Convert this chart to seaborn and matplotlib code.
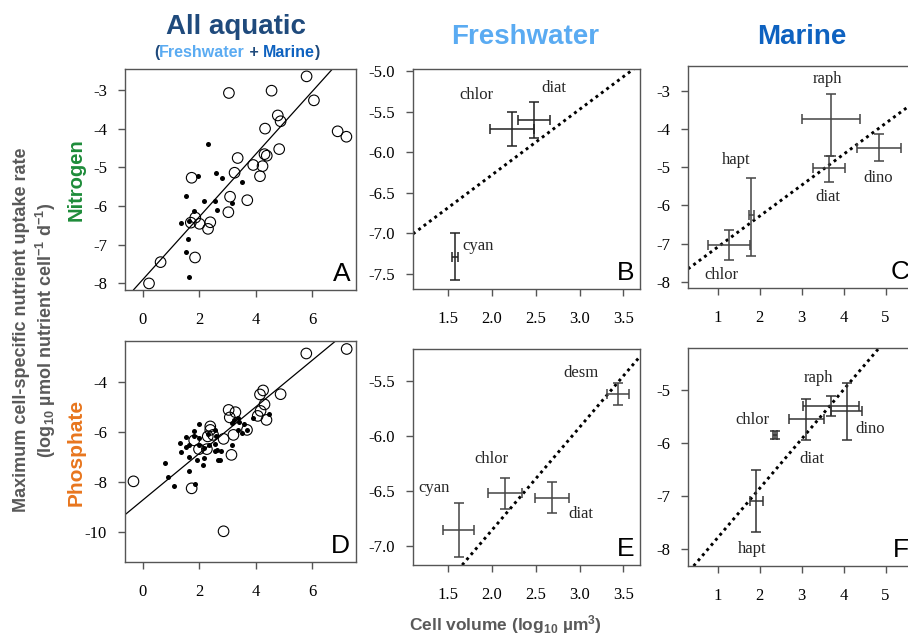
import numpy as np
import pandas as pd
import seaborn as sns
import matplotlib.pyplot as plt

# ---- panel A: nitrogen, all aquatic (open = marine, filled = freshwater)
a_open_x = [0.22, 0.63, 5.80, 6.06, 3.05, 4.56, 4.78, 4.88, 4.33, 6.90, 7.21, 4.83, 4.31, 4.39, 3.36,
            3.91, 4.24, 3.25, 4.15, 1.73, 3.09, 3.70, 3.03, 1.86, 2.01, 1.70, 2.39, 2.31, 1.85]
a_open_y = [-8.00, -7.45, -2.65, -3.27, -3.08, -3.02, -3.66, -3.81, -4.00, -4.07, -4.21, -4.53, -4.66, -4.70, -4.76,
            -4.94, -4.97, -5.14, -5.23, -5.27, -5.76, -5.85, -6.16, -6.30, -6.46, -6.43, -6.42, -6.59, -7.33]
a_fill_x = [2.30, 1.96, 2.60, 2.80, 3.51, 1.53, 2.15, 2.57, 3.17, 1.82, 2.63, 1.34, 1.62, 1.59, 1.53, 1.63]
a_fill_y = [-4.41, -5.22, -5.15, -5.27, -5.38, -5.74, -5.87, -5.87, -5.92, -6.14, -6.10, -6.44, -6.38, -6.85, -7.20, -7.84]

# ---- panel D: phosphate, all aquatic
d_open_x = [-0.33, 5.79, 7.22, 4.88, 4.26, 4.15, 4.31, 4.17, 4.07, 4.38, 3.04, 3.28, 3.08, 2.39, 2.39,
            2.30, 2.49, 2.86, 3.21, 3.69, 1.99, 2.27, 1.82, 3.14, 1.73, 2.86]
d_open_y = [-7.97, -2.85, -2.67, -4.48, -4.33, -4.49, -4.89, -5.15, -5.35, -5.51, -5.11, -5.20, -5.41, -5.77, -5.91,
            -6.17, -6.11, -6.27, -6.11, -5.91, -6.68, -6.68, -6.33, -6.91, -8.25, -9.97]
d_fill_x = [0.78, 0.91, 1.09, 1.34, 1.31, 1.53, 1.54, 1.62, 1.64, 1.64, 1.82, 1.83, 1.86, 1.92, 2.00,
            2.00, 2.00, 2.15, 2.14, 2.18, 2.33, 2.32, 2.57, 2.60, 2.56, 2.55, 2.63, 2.65, 2.72, 2.77,
            3.17, 3.17, 3.22, 3.36, 3.42, 3.37, 3.50, 3.60, 3.70, 3.92, 4.46]
d_fill_y = [-7.25, -7.81, -8.15, -6.80, -6.44, -6.20, -6.60, -6.53, -7.00, -7.55, -5.95, -6.17, -8.08, -7.11, -5.67,
            -6.24, -6.52, -7.03, -7.32, -6.64, -6.53, -6.09, -5.91, -6.17, -6.47, -6.77, -6.71, -7.11, -7.11, -6.77,
            -6.52, -5.64, -5.51, -5.44, -5.60, -5.91, -6.04, -5.67, -5.91, -5.45, -5.27]

# regression lines (intercept, slope) from the all-aquatic panels
n_fit = (-7.90, 0.81)
p_fit = (-8.72, 0.933)

# ---- group means +- error (B, C: nitrogen; E, F: phosphate)
b_group = ['chlor', 'diat', 'cyan']
b_x = [2.225, 2.48, 1.584]
b_xerr = [0.25, 0.185, 0.035]
b_y = [-5.71, -5.60, -7.29]
b_yerr = [0.21, 0.22, 0.29]

c_group = ['chlor', 'hapt', 'diat', 'raph', 'dino']
c_x = [1.26, 1.80, 3.65, 3.70, 4.84]
c_xerr = [0.50, 0.06, 0.38, 0.68, 0.515]
c_y = [-7.03, -6.26, -5.03, -3.75, -4.49]
c_ylo = [0.41, 1.07, 0.36, 0.95, 0.34]
c_yhi = [0.40, 0.99, 0.33, 0.67, 0.35]

e_group = ['desm', 'chlor', 'diat', 'cyan']
e_x = [3.44, 2.15, 2.69, 1.62]
e_xerr = [0.13, 0.19, 0.195, 0.18]
e_y = [-5.62, -6.52, -6.56, -6.855]
e_yerr = [0.097, 0.14, 0.14, 0.245]

f_group = ['hapt', 'chlor', 'diat', 'raph', 'dino']
f_x = [1.92, 2.37, 3.11, 3.70, 4.07]
f_xerr = [0.16, 0.055, 0.42, 0.67, 0.36]
f_y = [-7.09, -5.84, -5.55, -5.30, -5.40]
f_yerr = [0.58, 0.08, 0.39, 0.19, 0.54]

# where the group names sit (data coords)
b_lab = {'chlor': (1.82, -5.29), 'diat': (2.71, -5.20), 'cyan': (1.84, -7.16)}
c_lab = {'chlor': (1.10, -7.83), 'hapt': (1.44, -4.81), 'diat': (3.62, -5.77),
         'raph': (3.61, -2.68), 'dino': (4.83, -5.29)}
e_lab = {'desm': (3.02, -5.43), 'chlor': (1.99, -6.21), 'diat': (3.02, -6.71), 'cyan': (1.34, -6.47)}
f_lab = {'hapt': (1.83, -7.99), 'chlor': (1.83, -5.57), 'diat': (3.24, -6.30),
         'raph': (3.40, -4.77), 'dino': (4.63, -5.73)}

W, H = 908, 637
sns.set_style('ticks')
plt.rcParams['font.family'] = ['Liberation Serif', 'DejaVu Serif']
plt.rcParams['axes.unicode_minus'] = False
plt.rcParams['axes.edgecolor'] = '#555555'
plt.rcParams['axes.linewidth'] = 1.0
plt.rcParams['mathtext.fontset'] = 'custom'
for k in ('rm', 'it', 'bf', 'sf'):
  plt.rcParams['mathtext.' + k] = 'Liberation Sans:bold'

fig = plt.figure(figsize=(W / 100, H / 100), dpi=100)


def px_axes(l, t, r, b):
  return fig.add_axes([l / W, 1 - b / H, (r - l) / W, (b - t) / H])


def style(ax, xlim, ylim, xt, yt, fmt, letter):
  ax.set_xlim(*xlim)
  ax.set_ylim(*ylim)
  ax.set_xticks(xt)
  ax.set_yticks(yt)
  ax.set_xticklabels([fmt[0].format(v) for v in xt])
  ax.set_yticklabels([fmt[1].format(v) for v in yt])
  ax.tick_params(direction='out', length=5, width=1, color='#555555', labelsize=12,
                 labelcolor='black', pad=8)
  ax.tick_params(axis='x', pad=11)
  for s in ax.spines.values():
    s.set_visible(True)
  ax.set_xlabel(None)
  ax.set_ylabel(None)
  ax.text(0.975, 0.02, letter, transform=ax.transAxes, ha='right', va='bottom',
          fontsize=19, family='Liberation Sans', color='black')


def scatter_panel(ax, ox, oy, fx, fy, fit):
  sns.scatterplot(x=ox, y=oy, ax=ax, s=58, facecolor='none', edgecolor='black', linewidth=0.8)
  sns.scatterplot(x=fx, y=fy, ax=ax, s=13, color='black', edgecolor='black', linewidth=0)
  ax.axline((0, fit[0]), slope=fit[1], color='black', lw=0.9)


def group_panel(ax, x, y, xerr, yerr, names, lab, fit, ecol):
  ax.axline((0, fit[0]), slope=fit[1], color='black', lw=2.1, ls=(0, (1, 1.3)))
  ax.errorbar(x, y, xerr=xerr, yerr=yerr, fmt='none', ecolor=ecol,
              elinewidth=1.1, capsize=3.5, capthick=1.1)
  for n in names:
    ax.text(*lab[n], n, ha='center', va='center', fontsize=12, family='Liberation Serif')


axA = px_axes(125, 69, 356, 290)
scatter_panel(axA, a_open_x, a_open_y, a_fill_x, a_fill_y, n_fit)
style(axA, (-0.63, 7.55), (-8.17, -2.46), [0, 2, 4, 6], [-8, -7, -6, -5, -4, -3], ('{:d}', '{:d}'), 'A')

axD = px_axes(125, 341, 356, 562)
scatter_panel(axD, d_open_x, d_open_y, d_fill_x, d_fill_y, p_fit)
style(axD, (-0.63, 7.55), (-11.2, -2.35), [0, 2, 4, 6], [-10, -8, -6, -4], ('{:d}', '{:d}'), 'D')

axB = px_axes(413, 69, 640, 289)
group_panel(axB, b_x, b_y, b_xerr, b_yerr, b_group, b_lab, n_fit, '#222222')
style(axB, (1.10, 3.69), (-7.69, -4.97), [1.5, 2.0, 2.5, 3.0, 3.5],
      [-7.5, -7.0, -6.5, -6.0, -5.5, -5.0], ('{:.1f}', '{:.1f}'), 'B')

axE = px_axes(413, 349, 640, 565)
group_panel(axE, e_x, e_y, e_xerr, e_yerr, e_group, e_lab, p_fit, '#444444')
style(axE, (1.10, 3.69), (-7.17, -5.21), [1.5, 2.0, 2.5, 3.0, 3.5],
      [-7.0, -6.5, -6.0, -5.5], ('{:.1f}', '{:.1f}'), 'E')

axC = px_axes(688, 66, 915, 288)
group_panel(axC, c_x, c_y, c_xerr, [c_ylo, c_yhi], c_group, c_lab, n_fit, '#444444')
style(axC, (0.295, 5.70), (-8.16, -2.35), [1, 2, 3, 4, 5], [-8, -7, -6, -5, -4, -3], ('{:d}', '{:d}'), 'C')

axF = px_axes(688, 348, 915, 566)
group_panel(axF, f_x, f_y, f_xerr, f_yerr, f_group, f_lab, p_fit, '#333333')
style(axF, (0.295, 5.70), (-8.32, -4.20), [1, 2, 3, 4, 5], [-8, -7, -6, -5], ('{:d}', '{:d}'), 'F')

# ---- column titles
navy, light, blue = '#1f4a7c', '#5aabf2', '#0e62c0'
sans = ['Liberation Sans', 'DejaVu Sans']
fig.text(236 / W, 1 - 34 / H, 'All aquatic', ha='center', va='baseline', fontsize=20,
         fontweight='bold', color=navy, family=sans)
fig.text(525 / W, 1 - 44 / H, 'Freshwater', ha='center', va='baseline', fontsize=20,
         fontweight='bold', color=light, family=sans)
fig.text(802 / W, 1 - 44 / H, 'Marine', ha='center', va='baseline', fontsize=20,
         fontweight='bold', color=blue, family=sans)

parts = [('(', navy), ('Freshwater', light), (' + ', navy), ('Marine', blue), (')', navy)]
t = fig.text(154 / W, 1 - 57 / H, parts[0][0], color=parts[0][1], ha='left', va='baseline',
             fontsize=11.5, fontweight='bold', family=sans)
for s, c in parts[1:]:
  t = axA.annotate(s, xy=(1, 0), xycoords=t, ha='left', va='bottom', color=c,
                   fontsize=11.5, fontweight='bold', family=sans, annotation_clip=False)

# ---- shared axis labels
grey = '#595959'
fig.text(22 / W, 1 - 330 / H, 'Maximum cell-specific nutrient uptake rate', rotation=90,
         ha='center', va='center', fontsize=13, fontweight='bold', color=grey, family=sans)
fig.text(46 / W, 1 - 330 / H, r'(log$_{10}$ µmol nutrient cell$^{-1}$ d$^{-1}$)', rotation=90,
         ha='center', va='center', fontsize=13, fontweight='bold', color=grey, family=sans)
fig.text(76 / W, 1 - 180 / H, 'Nitrogen', rotation=90, ha='center', va='center',
         fontsize=14.5, fontweight='bold', color='#1e8c3a', family=sans)
fig.text(76 / W, 1 - 452 / H, 'Phosphate', rotation=90, ha='center', va='center',
         fontsize=15, fontweight='bold', color='#e8761e', family=sans)
fig.text(505 / W, 1 - 625 / H, r'Cell volume (log$_{10}$ µm$^{3}$)', ha='center', va='center',
         fontsize=12.5, fontweight='bold', color=grey, family=sans)

fig.savefig('out.png', dpi=100)
